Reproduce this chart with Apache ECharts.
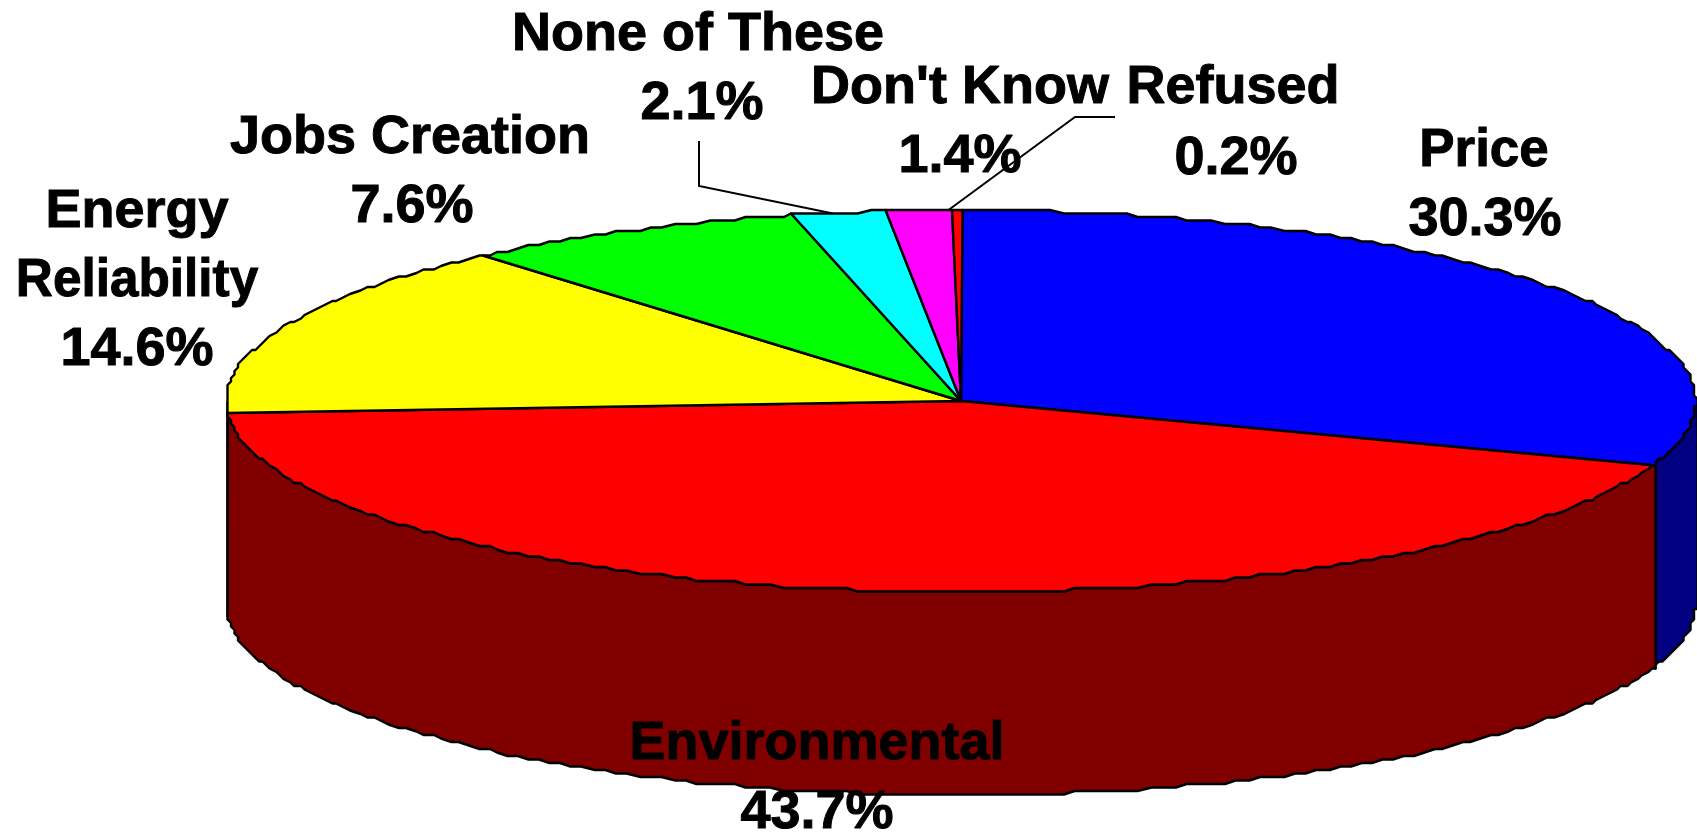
<!DOCTYPE html>
<html>
<head>
<meta charset="utf-8">
<style>html,body{margin:0;padding:0;background:#fff;overflow:hidden}#chart{width:1697px;height:832px}</style>
<script src="https://cdn.jsdelivr.net/npm/echarts@6/dist/echarts.min.js"></script>
</head>
<body>
<div id="chart"></div>
<script>
// Survey shares, clockwise from twelve o'clock.
const categories = ['Price', 'Environmental', 'Energy\nReliability', 'Jobs Creation', 'None of These', "Don't Know", 'Refused'];
const shares = [30.3, 43.7, 14.6, 7.6, 2.1, 1.4, 0.2];

const topColors = ['#0000ff', '#ff0000', '#ffff00', '#00ff00', '#00ffff', '#ff00ff', '#ff0000'];
const wallColors = ['#000080', '#800000', '#808000', '#008000', '#008080', '#800080', '#800000'];

// Text placement: centre x, middle y and horizontal fit of every line of each label.
const labelLines = [
  [[1484, 151, 0.98], [1485, 220, 1]],
  [[817, 744, 1], [817, 813, 1]],
  [[137, 212, 1], [137, 281, 0.95], [137, 350, 1]],
  [[410, 138, 1], [412, 207, 1]],
  [[698, 35, 1], [702, 104, 1]],
  [[960, 88, 1], [960, 157, 1]],
  [[1233, 88, 1], [1236, 159, 1]]
];

// Callouts: label-side vertices in pixels, then the slice and the position inside it they end on.
const leaders = [
  { slice: 4, at: 0.42, path: [[699, 141], [699, 186]] },
  { slice: 5, at: 0.93, path: [[1115, 117], [1075, 117]] }
];

const depth = 1.063;          // wall height, in units of the vertical semi-axis
const snap = 3.5;             // outline vertices sit on a coarse pixel lattice
const outline = 2.4;
const total = shares.reduce((a, b) => a + b, 0);

const starts = [];
shares.reduce((sum, v, i) => { starts[i] = sum; return sum + v; }, 0);
const toAngle = pct => pct / total * 360;

function rimPoint(api, deg, drop) {
  const r = deg * Math.PI / 180;
  const p = api.coord([Math.sin(r), Math.cos(r) - drop]);
  return [Math.round(p[0] / snap) * snap, Math.round(p[1] / snap) * snap];
}

function arcAngles(a, b) {
  const list = [a];
  for (let d = Math.floor(a) + 1; d < b; d++) list.push(d);
  list.push(b);
  return list;
}

function renderWall(params, api) {
  const i = api.value(0);
  const a = Math.max(toAngle(starts[i]), 90);
  const b = Math.min(toAngle(starts[i] + shares[i]), 270);
  if (a >= b) return { type: 'group', children: [] };
  const angles = arcAngles(a, b);
  const upper = angles.map(d => rimPoint(api, d, 0));
  const lower = angles.slice().reverse().map(d => rimPoint(api, d, depth));
  return {
    type: 'polygon',
    shape: { points: upper.concat(lower) },
    style: { fill: wallColors[i], stroke: '#000', lineWidth: outline, lineJoin: 'round' }
  };
}

function renderTop(params, api) {
  const i = api.value(0);
  const a = toAngle(starts[i]);
  const b = toAngle(starts[i] + shares[i]);
  const rim = arcAngles(a, b).map(d => rimPoint(api, d, 0));
  return {
    type: 'polygon',
    shape: { points: [api.coord([0, 0])].concat(rim) },
    style: { fill: topColors[i], stroke: '#000', lineWidth: outline, lineJoin: 'round' }
  };
}

function renderLeader(params, api) {
  const l = leaders[api.value(0)];
  const pct = starts[l.slice] + shares[l.slice] * l.at;
  return {
    type: 'polyline',
    shape: { points: l.path.concat([rimPoint(api, toAngle(pct), 0)]) },
    style: { fill: null, stroke: '#000', lineWidth: 2 }
  };
}

function renderLabel(params, api) {
  const i = api.value(0);
  const lines = categories[i].split('\n').concat(shares[i].toFixed(1) + '%');
  return {
    type: 'group',
    children: lines.map((text, k) => {
      const [x, y, fit] = labelLines[i][k];
      return {
        type: 'text',
        x: x,
        y: y,
        scaleX: fit,
        style: {
          text: text,
          x: 0,
          y: 0,
          align: 'center',
          verticalAlign: 'middle',
          font: 'bold 54px "Liberation Sans", Arial, sans-serif',
          fill: '#000',
          stroke: '#000',
          lineWidth: 1
        }
      };
    })
  };
}

const sliceRows = shares.map((v, i) => [i, 0]);
const leaderRows = leaders.map((l, i) => [i, 0]);

function layer(renderItem, data, z) {
  return { type: 'custom', coordinateSystem: 'cartesian2d', renderItem, data, z, silent: true, clip: false, animation: false };
}

const chart = echarts.init(document.getElementById('chart'), null, { renderer: 'canvas' });
chart.setOption({
  animation: false,
  backgroundColor: '#ffffff',
  grid: { left: 226, top: 210, width: 1470, height: 585 },
  xAxis: { type: 'value', min: -1, max: 1, show: false },
  yAxis: { type: 'value', min: -1 - depth, max: 1, show: false },
  series: [
    layer(renderWall, sliceRows, 1),
    layer(renderTop, sliceRows, 2),
    layer(renderLeader, leaderRows, 3),
    layer(renderLabel, sliceRows, 4)
  ]
});
</script>
</body>
</html>
